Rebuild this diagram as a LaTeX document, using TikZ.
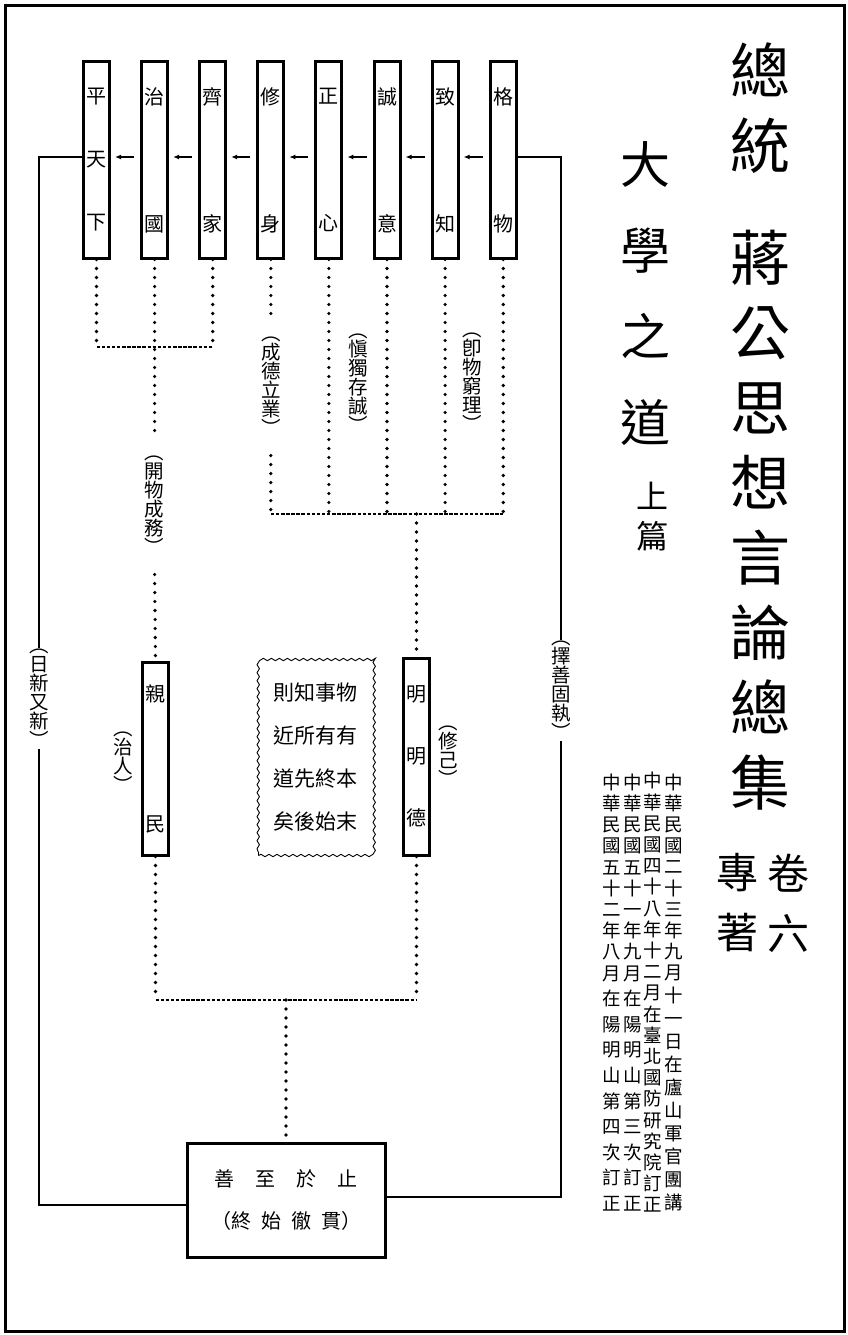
\documentclass[tikz,border=0pt]{standalone}
\usepackage{fontspec}
\setmainfont{Noto Sans CJK TC}
\usetikzlibrary{arrows.meta,decorations.pathmorphing}
\tikzset{
  frame/.style={line width=3pt},
  tbox/.style={draw, line width=3pt, minimum width=26pt, minimum height=196pt, inner sep=0pt, align=center, font=\fontsize{20}{20}\selectfont},
  mbox/.style={draw, line width=3pt, minimum width=26pt, inner sep=0pt, align=center, font=\fontsize{20}{20}\selectfont},
  dots/.style={line width=3.6pt, line cap=round, dash pattern=on 0pt off 9pt},
  thindash/.style={line width=1.3pt, dash pattern=on 3.5pt off 1.6pt},
  solidline/.style={line width=2.8pt},
  arr/.style={line width=1.4pt, -{Latex[length=6pt,width=5pt]}, shorten >=4pt, shorten <=6pt},
  vlab/.style={inner sep=0pt, align=center, font=\fontsize{19.5}{19}\selectfont},
  vlabon/.style={vlab, inner ysep=20pt},
  vlabline/.style={vlab, inner ysep=1pt},
  wavybox/.style={draw, decorate, decoration={snake, amplitude=1.2pt, segment length=8pt}, line width=0.9pt, minimum width=113pt, minimum height=197pt, inner sep=0pt, align=center, font=\fontsize{21}{43}\selectfont},
  goalbox/.style={draw, line width=3pt, minimum width=198pt, minimum height=114pt, inner sep=0pt, align=center, font=\fontsize{20}{42}\selectfont},
  small/.style={inner sep=0pt, align=center},
  datecol/.style={small, font=\fontsize{18.5}{21.2}\selectfont},
}
\begin{document}
\begin{tikzpicture}[x=1pt,y=-1pt]
\useasboundingbox (0,0) rectangle (847,1335);
\draw[frame] (5,6) rectangle (844,1331);

% top boxes
\node[tbox] (b0) at (96.5,160) {平\\[43pt]天\\[43pt]下};
\node[tbox] (b1) at (154.6,160) {治\\[107pt]國};
\node[tbox] (b2) at (212.7,160) {齊\\[107pt]家};
\node[tbox] (b3) at (270.8,160) {修\\[107pt]身};
\node[tbox] (b4) at (328.9,160) {正\\[107pt]心};
\node[tbox] (b5) at (387.0,160) {誠\\[107pt]意};
\node[tbox] (b6) at (445.1,160) {致\\[107pt]知};
\node[tbox] (b7) at (503.2,160) {格\\[107pt]物};

% middle boxes
\node[mbox, minimum height=193pt] (qm) at (155.5,758.5) {親\\[110pt]民};
\node[mbox, minimum height=197pt] (mmd) at (416.5,756.5) {明\\[42pt]明\\[42pt]德};
\node[wavybox] (zhi) at (315,757) {則知事物\\近所有有\\道先終本\\矣後始末};

% goal box
\node[goalbox] (goal) at (286,1200) {善\hspace{21pt}至\hspace{21pt}於\hspace{21pt}止\\（終\hspace{10pt}始\hspace{10pt}徹\hspace{10pt}貫）};

% labels
\node[vlabon] (kw) at (154.6,505) {︵\\開\\物\\成\\務\\︶};
\node[vlabon] (cd) at (270.8,386) {︵\\成\\德\\立\\業\\︶};
\node[vlab] (sd) at (358,383) {︵\\愼\\獨\\存\\誠\\︶};
\node[vlab] (jw) at (472,382) {︵\\卽\\物\\窮\\理\\︶};
\node[vlab] (zr) at (123,762) {︵\\治\\人\\︶};
\node[vlab] (xj) at (448,756) {︵\\修\\己\\︶};
\node[vlabline] (ll) at (39,698) {︵\\日\\新\\又\\新\\︶};
\node[vlabline] (rl) at (561,690) {︵\\擇\\善\\固\\執\\︶};

% arrows between top boxes
\draw[arr] ([yshift=3pt]b7.west) -- ([yshift=3pt]b6.east);
\draw[arr] ([yshift=3pt]b6.west) -- ([yshift=3pt]b5.east);
\draw[arr] ([yshift=3pt]b5.west) -- ([yshift=3pt]b4.east);
\draw[arr] ([yshift=3pt]b4.west) -- ([yshift=3pt]b3.east);
\draw[arr] ([yshift=3pt]b3.west) -- ([yshift=3pt]b2.east);
\draw[arr] ([yshift=3pt]b2.west) -- ([yshift=3pt]b1.east);
\draw[arr] ([yshift=3pt]b1.west) -- ([yshift=3pt]b0.east);

% outer loop
\draw[solidline] ([yshift=3pt]b0.west) -| (ll.north);
\draw[solidline] (ll.south) |- ([yshift=-5pt]goal.west);
\draw[solidline] ([yshift=3pt]b7.east) -| (rl.north);
\draw[solidline] (rl.south) |- ([yshift=3pt]goal.east);

% left group
\coordinate (jl) at (154.6,347);
\draw[dots] (b0.south) -- (b0.south |- jl);
\draw[dots] (b2.south) -- (b2.south |- jl);
\draw[thindash] (b0.south |- jl) -- (b2.south |- jl);
\draw[dots] (b1.south) -- (kw.north);
\draw[dots] (kw.south) -- (qm.north);

% right group
\coordinate (jr) at (416.5,514);
\draw[dots] (b3.south) -- (cd.north);
\draw[dots] (cd.south) -- (b3.south |- jr);
\draw[dots] (b4.south) -- (b4.south |- jr);
\draw[dots] (b5.south) -- (b5.south |- jr);
\draw[dots] (b6.south) -- (b6.south |- jr);
\draw[dots] (b7.south) -- (b7.south |- jr);
\draw[thindash] (b3.south |- jr) -- (b7.south |- jr);
\draw[dots] (jr) -- (mmd.north);

% bottom group
\coordinate (jb) at (286,1000);
\draw[dots] (qm.south) -- (qm.south |- jb);
\draw[dots] (mmd.south) -- (mmd.south |- jb);
\draw[thindash] (qm.south |- jb) -- (mmd.south |- jb);
\draw[dots] (jb) -- (goal.north);

% right-hand titles
\node[small, font=\fontsize{60}{75}\selectfont] (title) at (760,426.5) {總\\統\\[37pt]蔣\\公\\思\\想\\言\\論\\總\\集};
\node[small, font=\fontsize{50}{86}\selectfont] (dx) at (645,293.5) {大\\學\\之\\道};
\node[small, font=\fontsize{32}{40}\selectfont] (sp) at (652,517) {上\\篇};
\node[small, font=\fontsize{42}{60}\selectfont] (juan) at (788,903) {卷\\六};
\node[small, font=\fontsize{42}{60}\selectfont] (zhuan) at (737,903) {專\\著};

% date columns
\node[datecol] (c1) at (612,992.5) {中\\華\\民\\國\\五\\十\\二\\年\\八\\月\\[4.4pt]在\\[4.4pt]陽\\[4.4pt]明\\[4.4pt]山\\[4.4pt]第\\[4.4pt]四\\[4.4pt]次\\[4.4pt]訂\\[4.4pt]正};
\node[datecol] (c2) at (632.5,992.5) {中\\華\\民\\國\\五\\十\\一\\年\\九\\月\\[4.4pt]在\\[4.4pt]陽\\[4.4pt]明\\[4.4pt]山\\[4.4pt]第\\[4.4pt]三\\[4.4pt]次\\[4.4pt]訂\\[4.4pt]正};
\node[datecol] (c3) at (653,992.5) {中\\華\\民\\國\\四\\十\\八\\年\\十\\二\\月\\在\\臺\\北\\國\\防\\研\\究\\院\\訂\\正};
\node[datecol] (c4) at (673.5,992.5) {中\\華\\民\\國\\二\\十\\三\\年\\九\\月\\[1.8pt]十\\[1.8pt]一\\[1.8pt]日\\[1.8pt]在\\[1.8pt]廬\\[1.8pt]山\\[1.8pt]軍\\[1.8pt]官\\[1.8pt]團\\[1.8pt]講};
\end{tikzpicture}
\end{document}
